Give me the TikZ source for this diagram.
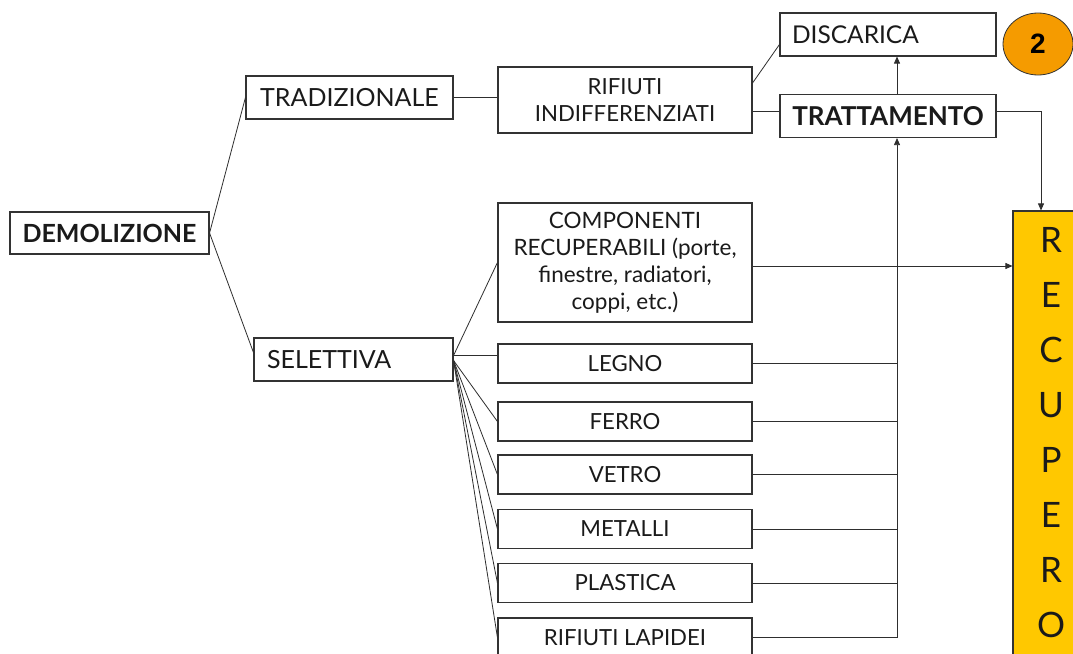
\documentclass[tikz,border=0pt]{standalone}
\usepackage{fontspec}
\setmainfont{Lato}
\newfontfamily\arialf{Liberation Sans}
\usetikzlibrary{arrows.meta,shapes.geometric,calc}
\definecolor{boxc}{HTML}{333333}
\definecolor{linec}{HTML}{2E2E2E}
\definecolor{txtc}{HTML}{1A1A1A}
\definecolor{recfill}{HTML}{FFC800}
\definecolor{orfill}{HTML}{F59B00}
\newcommand\bigfnt{\fontsize{25}{28}\selectfont}
\newcommand\smlfnt{\fontsize{22.2}{26.5}\selectfont}
\tikzset{
  boxnode/.style={draw=boxc, line width=1.1pt, rectangle, inner sep=0pt, text=txtc, font=\smlfnt, align=center},
  bignode/.style={boxnode, font=\bigfnt},
  conn/.style={draw=linec, line width=0.8pt},
  arr/.style={conn, -{Triangle[length=7pt,width=6pt]}},
  reclet/.style={inner sep=0pt, text=txtc, font=\fontsize{35}{40}\selectfont}
}
\begin{document}
\begin{tikzpicture}[x=1pt,y=-1pt]
\useasboundingbox (0,0) rectangle (1073,653);
\fill[white] (0,0) rectangle (1073,653);

% nodes
\node[bignode, minimum width=199, minimum height=42, font=\bigfnt\bfseries] (demo) at (109.5,233) {DEMOLIZIONE};
\node[bignode, minimum width=207, minimum height=43] (trad) at (349.5,97.5) {TRADIZIONALE};
\node[bignode, minimum width=199, minimum height=43, text width=173, inner xsep=13, align=left] (sel) at (353.5,359.5) {SELETTIVA};
\node[boxnode, minimum width=254, minimum height=66] (rif) at (625,100) {RIFIUTI\\INDIFFERENZIATI};
\node[bignode, minimum width=216, minimum height=43, text width=192, inner xsep=12, align=left, font=\fontsize{24.5}{28}\selectfont] (disc) at (888,34.5) {DISCARICA};
\node[bignode, minimum width=216, minimum height=43, font=\fontsize{26}{28}\selectfont\bfseries] (tratt) at (888,116) {TRATTAMENTO};
\node[ellipse, draw=boxc, line width=0.8pt, fill=orfill, minimum width=70, minimum height=62, inner sep=0pt, font=\arialf\bfseries\fontsize{28}{30}\selectfont] (two) at (1038,44) {2};

\node[boxnode, minimum width=254, minimum height=119, font=\fontsize{22.5}{27}\selectfont] (comp) at (625,262.5) {COMPONENTI\\RECUPERABILI (porte,\\finestre, radiatori,\\coppi, etc.)};
\node[boxnode, minimum width=254, minimum height=39] (legno) at (625,363.5) {LEGNO};
\node[boxnode, minimum width=254, minimum height=39] (ferro) at (625,421.5) {FERRO};
\node[boxnode, minimum width=254, minimum height=39] (vetro) at (625,474.5) {VETRO};
\node[boxnode, minimum width=254, minimum height=39] (metalli) at (625,529) {METALLI};
\node[boxnode, minimum width=254, minimum height=39] (plastica) at (625,583) {PLASTICA};
\node[boxnode, minimum width=254, minimum height=39] (lapidei) at (625,637.5) {RIFIUTI LAPIDEI};

\node[draw=boxc, line width=1.1pt, fill=recfill, rectangle, inner sep=0pt, minimum width=80, minimum height=460] (rec) at (1053,441) {};
\foreach \l [count=\i] in {R,E,C,U,P,E,R,O}
  \node[reclet] (rl\i) at (1051,{240+55*(\i-1)}) {\l};

% coordinates
\coordinate (ts) at ([xshift=9pt]tratt.south);
\coordinate (tn) at ([xshift=9pt]tratt.north);
\coordinate (recN) at ([xshift=-12pt]rec.north);
\coordinate (so) at ([yshift=4pt]sel.east);
\coordinate (sf) at ([yshift=-1pt]sel.east);

% connectors
\draw[conn] (demo.east) -- (trad.west);
\draw[conn] (demo.east) -- ([yshift=7pt]sel.west);
\draw[conn] (trad.east) -- (trad.east -| rif.west);
\draw[conn] ([yshift=17pt]rif.east) -- ([yshift=-10pt]disc.west);
\draw[conn] ([yshift=5pt]tratt.west) -- ([yshift=5pt]tratt.west -| rif.east);
\draw[arr] (tn) -- (tn |- disc.south);
\draw[arr] ([yshift=5pt]tratt.east) -| (recN);
\draw[arr] ([yshift=-3.5pt]comp.east) -- ([yshift=-3.5pt]comp.east -| rec.west);

\draw[conn] (so) -- (comp.west);
\draw[conn] (so) -- (so -| legno.west);
\foreach \n in {ferro,vetro,metalli,plastica,lapidei}
  \draw[conn] (sf) -- (\n.west);

\foreach \n in {legno,ferro,vetro,metalli,plastica}
  \draw[conn] (\n.east) -- (\n.east -| ts);
\draw[arr] (lapidei.east) -- (lapidei.east -| ts) -- (ts);
\end{tikzpicture}
\end{document}
